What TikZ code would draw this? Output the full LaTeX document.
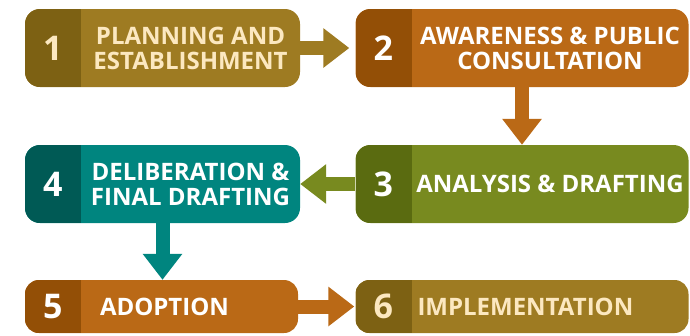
\documentclass[tikz,border=0pt]{standalone}
\usepackage{fontspec}
\setmainfont{Open Sans}
\usepackage{xcolor}
\definecolor{gold}{HTML}{9E7B22}
\definecolor{darkgold}{HTML}{7D6113}
\definecolor{rust}{HTML}{BA6916}
\definecolor{darkrust}{HTML}{934F06}
\definecolor{olive}{HTML}{788A1F}
\definecolor{darkolive}{HTML}{5A6B10}
\definecolor{seateal}{HTML}{00857F}
\definecolor{darkteal}{HTML}{005A55}
\definecolor{cream}{HTML}{FCE8C0}
\usetikzlibrary{arrows.meta,positioning}

\begin{document}
\begin{tikzpicture}[x=1pt, y=-1pt, line cap=butt, font=\bfseries, tab/.style={path picture={\fill[#1, sharp corners] (path picture bounding box.north west) rectangle ([xshift=56pt]path picture bounding box.south west);}},]
   \tikzstyle{stage}=[rectangle, rounded corners=15pt, draw=none, inner sep=0pt, minimum height=78pt]
   \tikzstyle{num}=[text=white, font=\bfseries\fontsize{34}{34}\selectfont]
   \tikzstyle{caption}=[text=white, align=center, inner sep=0pt, font=\bfseries\fontsize{24}{25}\selectfont]
   \tikzstyle{flow}=[line width=14pt, -{Triangle[width=38pt, length=26pt]}]

   \useasboundingbox (0,0) rectangle (690,335);

   \node[stage, fill=gold, tab=darkgold, minimum width=275pt] (planning) at (162.5,48) {};
   \node[stage, fill=rust, tab=darkrust, minimum width=333pt] (awareness) at (522,48) {};
   \node[stage, fill=olive, tab=darkolive, minimum width=333pt] (analysis) at (522,184) {};
   \node[stage, fill=seateal, tab=darkteal, minimum width=275pt] (deliberation) at (162.5,184) {};
   \node[stage, fill=rust, tab=darkrust, minimum width=273pt, minimum height=53pt, rounded corners=14pt] (adoption) at (161.5,306.5) {};
   \node[stage, fill=gold, tab=darkgold, minimum width=333pt, minimum height=53pt, rounded corners=14pt] (implementation) at (522,306.5) {};

   \node[num, text=cream] (num1) at ([xshift=28pt]planning.west) {1};
   \node[num] (num2) at ([xshift=28pt]awareness.west) {2};
   \node[num] (num3) at ([xshift=28pt]analysis.west) {3};
   \node[num] (num4) at ([xshift=28pt]deliberation.west) {4};
   \node[num] (num5) at ([xshift=28pt]adoption.west) {5};
   \node[num, text=cream] (num6) at ([xshift=28pt]implementation.west) {6};

   \node[caption, text=cream] (text1) at ([xshift=28pt]planning.center) {PLANNING AND\\ESTABLISHMENT};
   \node[caption] (text2) at ([xshift=28pt]awareness.center) {AWARENESS \& PUBLIC\\CONSULTATION};
   \node[caption] (text3) at ([xshift=28pt]analysis.center) {ANALYSIS \& DRAFTING};
   \node[caption] (text4) at ([xshift=28pt]deliberation.center) {DELIBERATION \&\\FINAL DRAFTING};
   \node[caption, anchor=west] (text5) at ([xshift=75pt]adoption.west) {ADOPTION};
   \node[caption, text=cream, anchor=west] (text6) at ([xshift=62pt]implementation.west) {IMPLEMENTATION};

   \path

  (planning)
    edge [flow, gold, shorten >=6pt] (awareness)
  (awareness.south)
    edge [flow, rust] (analysis.north)
  (analysis)
    edge [flow, olive] (deliberation)
  (deliberation.south)
    edge [flow, seateal] (deliberation.south |- adoption.north)
  (adoption)
    edge [flow, rust, shorten >=1pt] (implementation)
   ;
\end{tikzpicture}
\end{document}
